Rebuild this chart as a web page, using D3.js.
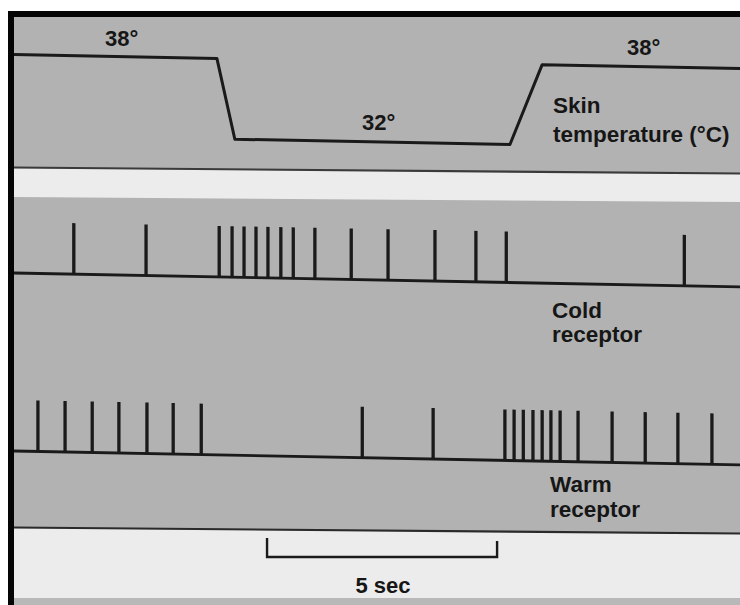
<!DOCTYPE html>
<html>
<head>
<meta charset="utf-8">
<script src="https://cdn.jsdelivr.net/npm/d3@7/dist/d3.min.js"></script>
<style>
  html, body { margin: 0; padding: 0; background: #ffffff; }
  svg { display: block; }
  text { font-family: "Liberation Sans", Arial, Helvetica, sans-serif; font-weight: bold; fill: #161616; }
</style>
</head>
<body>
<svg id="chart" width="740" height="605"></svg>
<script>
// ---------------- DATA ----------------
// Skin temperature step protocol (time in s, temperature in °C)
const tempTimes  = [0, 4.41, 4.80, 10.78, 11.48, 15.78];
const tempValues = [38, 38, 32, 32, 38, 38];
const tempLabels = ["38°", "32°", "38°"];

// Spike (action potential) times in seconds
const coldSpikes = [1.30, 2.87, 4.46, 4.74, 5.00, 5.26, 5.52, 5.80, 6.07, 6.54, 7.33,
                    8.13, 9.15, 10.04, 10.70, 14.57];
const warmSpikes = [0.52, 1.11, 1.70, 2.28, 2.89, 3.46, 4.07, 7.57, 9.11,
                    10.67, 10.87, 11.07, 11.28, 11.48, 11.67, 11.87,
                    12.26, 13.00, 13.72, 14.43, 15.17];

const traceNames = ["Skin|temperature (°C)", "Cold|receptor", "Warm|receptor"];
const scaleBarStart = 5.50;   // s
const scaleBarLength = 5;     // s
const scaleBarLabel = "5 sec";
const totalTime = 15.78;

// ---------------- LAYOUT ----------------
const svg = d3.select("#chart");
const W = 740, H = 605;
const x0 = 14;

const x = d3.scaleLinear().domain([0, totalTime]).range([0, W - x0]);
const yTemp = d3.scaleLinear().domain([32, 38]).range([135, 54.5]);
const yCold = d3.scaleLinear().domain([0, 1]).range([273, 222]);
const yWarm = d3.scaleLinear().domain([0, 1]).range([451, 400]);

// page background bands (scanned page look)
svg.append("rect").attr("x", 0).attr("y", 0).attr("width", W).attr("height", H).attr("fill", "#ffffff");
svg.append("rect").attr("x", 14).attr("y", 17).attr("width", W - 14).attr("height", H - 17).attr("fill", "#ececec");
// panel 1
svg.append("polygon")
  .attr("points", `14,17 ${W},17 ${W},174 14,168`)
  .attr("fill", "#b2b2b2");
svg.append("line").attr("x1", 14).attr("y1", 167.5).attr("x2", W).attr("y2", 173.5)
  .attr("stroke", "#3a3a3a").attr("stroke-width", 2.2);
// panel 2
svg.append("polygon")
  .attr("points", `14,197 ${W},202 ${W},534 14,528`)
  .attr("fill", "#b2b2b2");
svg.append("line").attr("x1", 14).attr("y1", 527.5).attr("x2", W).attr("y2", 533.5)
  .attr("stroke", "#2a2a2a").attr("stroke-width", 2.2);
// bottom grey strip
svg.append("rect").attr("x", 14).attr("y", 598).attr("width", W - 14).attr("height", 7).attr("fill", "#b8b8b8");

// black frame (top and left)
svg.append("rect").attr("x", 8).attr("y", 11).attr("width", W - 8).attr("height", 6).attr("fill", "#050505");
svg.append("rect").attr("x", 8).attr("y", 11).attr("width", 6).attr("height", H - 11).attr("fill", "#050505");

// traces group with slight scan tilt
const g = svg.append("g").attr("transform", `translate(${x0},0) skewY(1.1)`);
const ink = "#1a1a1a";

// temperature trace
const tempData = tempTimes.map((t, i) => [t, tempValues[i]]);
g.append("path")
  .datum(tempData)
  .attr("fill", "none")
  .attr("stroke", ink)
  .attr("stroke-width", 3)
  .attr("stroke-linejoin", "round")
  .attr("d", d3.line().x(d => x(d[0])).y(d => yTemp(d[1])));

// spike trains
function spikeTrain(spikes, yScale) {
  const tg = g.append("g");
  tg.append("line")
    .attr("x1", x(0)).attr("x2", x(totalTime))
    .attr("y1", yScale(0)).attr("y2", yScale(0))
    .attr("stroke", ink).attr("stroke-width", 2.8);
  tg.selectAll("line.spike")
    .data(spikes)
    .join("line")
    .attr("class", "spike")
    .attr("x1", d => x(d)).attr("x2", d => x(d))
    .attr("y1", yScale(0)).attr("y2", yScale(1))
    .attr("stroke", ink).attr("stroke-width", 3.3);
}
spikeTrain(coldSpikes, yCold);
spikeTrain(warmSpikes, yWarm);

// temperature value labels
const tempLabelPos = [[105, 46], [362, 130], [627, 55]];
svg.selectAll("text.tlab")
  .data(tempLabels)
  .join("text")
  .attr("class", "tlab")
  .attr("x", (d, i) => tempLabelPos[i][0])
  .attr("y", (d, i) => tempLabelPos[i][1])
  .attr("font-size", 22)
  .text(d => d);

// trace names
const namePos = [[553, 112.5, 29], [552, 318, 24], [550, 492, 25]];
traceNames.forEach((n, i) => {
  const parts = n.split("|");
  const t = svg.append("text")
    .attr("x", namePos[i][0]).attr("y", namePos[i][1])
    .attr("font-size", 22.5);
  parts.forEach((p, j) => {
    t.append("tspan")
      .attr("x", namePos[i][0])
      .attr("dy", j === 0 ? 0 : namePos[i][2])
      .text(p);
  });
});

// time scale bar
const sbX1 = x0 + x(scaleBarStart), sbX2 = x0 + x(scaleBarStart + scaleBarLength);
svg.append("path")
  .attr("d", `M${sbX1},538 L${sbX1},557 L${sbX2},557 L${sbX2},541`)
  .attr("fill", "none").attr("stroke", ink).attr("stroke-width", 2.4);
svg.append("text")
  .attr("x", (sbX1 + sbX2) / 2 + 1).attr("y", 593)
  .attr("text-anchor", "middle")
  .attr("font-size", 22)
  .text(scaleBarLabel);
</script>
</body>
</html>
